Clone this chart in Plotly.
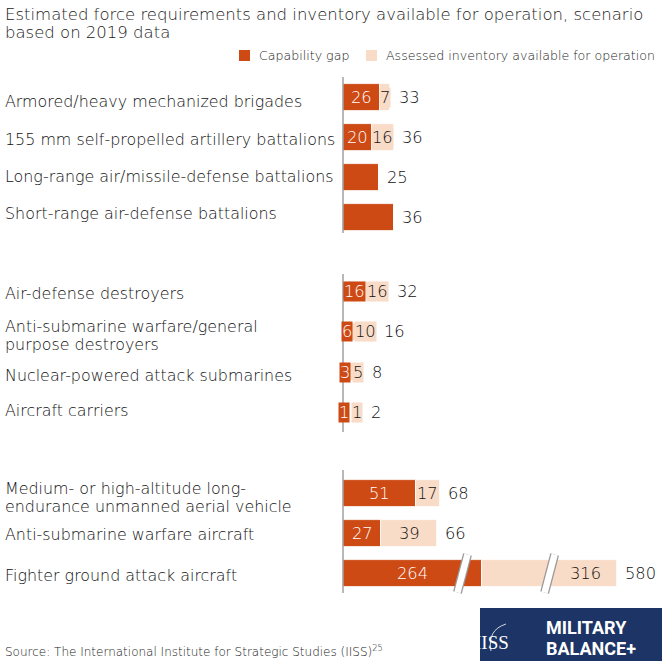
import plotly.graph_objects as go

# ---------------- data ----------------
categories = [
    "Armored/heavy mechanized brigades",
    "155 mm self-propelled artillery battalions",
    "Long-range air/missile-defense battalions",
    "Short-range air-defense battalions",
    "Air-defense destroyers",
    "Anti-submarine warfare/general<br>purpose destroyers",
    "Nuclear-powered attack submarines",
    "Aircraft carriers",
    "Medium- or high-altitude long-<br>endurance unmanned aerial vehicle",
    "Anti-submarine warfare aircraft",
    "Fighter ground attack aircraft",
]
groups = [0, 0, 0, 0, 1, 1, 1, 1, 2, 2, 2]
capability_gap = [26, 20, 25, 36, 16, 6, 3, 1, 51, 27, 264]
inventory = [7, 16, 0, 0, 16, 10, 5, 1, 17, 39, 316]
totals = [33, 36, 25, 36, 32, 16, 8, 2, 68, 66, 580]
# broken axis: displayed length of each segment of the fighter bar (axis break)
broken_display = {10: (97.5, 95)}

title_lines = ["Estimated force requirements and inventory available for operation, scenario",
               "based on 2019 data"]
legend_names = ["Capability gap", "Assessed inventory available for operation"]
source = "Source: The International Institute for Strategic Studies (IISS)<sup>25</sup>"

# ---------------- style / layout ----------------
W, H = 664, 671
RED = "#CD4A15"
LIGHT = "#F8DCC7"
TXT = "#111111"
FONT = "DejaVu Sans"
FW = 300
FS = 16.3
FS_CAT = 15.9
AX0 = 343          # pixel x of the zero line
PXU = 1.425        # pixels per unit
group_top = [84, 282, 480]
group_step = [40, 40.5, 40]
bar_h = [27, 18, 27]
axis_span = [(77, 233), (274, 432), (470, 593)]
label_dy = [4, 2, -1, -4, 2, 4, 3, -2, 4, 1, 2]
BREAK_FRAC = (0.86, 0.50)   # where the break marks sit within each segment
BREAK_HALF = 5              # half width (px) of a break mark


def u(p):  # pixel x -> data
    return (p - AX0) / PXU


def px(v):
    return AX0 + v * PXU


def f(size, color=TXT, family=FONT, weight=FW):
    return dict(family=family, size=size, color=color, weight=weight)


ys, widths = [], []
count = [0, 0, 0]
for g in groups:
    k = count[g]
    count[g] += 1
    ys.append(group_top[g] + bar_h[g] / 2 + k * group_step[g])
    widths.append(bar_h[g])

shown_gap, shown_inv = [], []
for i in range(len(categories)):
    if i in broken_display:
        a, b = broken_display[i]
    else:
        a, b = capability_gap[i], inventory[i]
    shown_gap.append(a)
    shown_inv.append(b)

fig = go.Figure()
fig.add_trace(go.Bar(
    orientation="h", y=ys, x=shown_gap, width=widths, base=[0] * len(ys),
    name=legend_names[0], marker=dict(color=RED, line=dict(color="white", width=0.8)),
    hoverinfo="skip", showlegend=False,
))
fig.add_trace(go.Bar(
    orientation="h", y=ys, x=shown_inv, width=widths, base=shown_gap,
    name=legend_names[1], marker=dict(color=LIGHT, line=dict(color="white", width=0.8)),
    hoverinfo="skip", showlegend=False,
))

ann = []
shapes = []
DIG = 10  # approx pixel width of a digit
for i, cat in enumerate(categories):
    y = ys[i]
    lines = cat.split("<br>")
    n = len(lines)
    for j, line in enumerate(lines):
        ly = y + label_dy[i] + (j - (n - 1) / 2) * 18
        ann.append(dict(x=3 / W, xref="paper", y=ly, yref="y", text=line, showarrow=False,
                        xanchor="left", yanchor="middle", align="left", font=f(FS_CAT)))
    end_px = px(shown_gap[i] + shown_inv[i])
    right = end_px
    if inventory[i] > 0:
        g_txt = str(capability_gap[i])
        i_txt = str(inventory[i])
        gw = len(g_txt) * DIG + 2
        iw = len(i_txt) * DIG + 2
        gc = px(shown_gap[i] / 2)
        g_right = gc + gw / 2
        if i in broken_display:
            brk2 = px(shown_gap[i] + shown_inv[i] * BREAK_FRAC[1]) + BREAK_HALF
            ic = (brk2 + end_px) / 2
        else:
            ic = px(shown_gap[i] + shown_inv[i] / 2)
        il = max(ic - iw / 2, g_right + 1)
        ic = il + iw / 2
        ann.append(dict(x=u(gc), xref="x", y=y, yref="y", text=g_txt, showarrow=False,
                        bgcolor=RED, borderpad=0, font=f(FS, "white")))
        ann.append(dict(x=u(ic), xref="x", y=y, yref="y", text=i_txt, showarrow=False,
                        bgcolor=LIGHT, borderpad=0, font=f(FS)))
        right = max(end_px, il + iw)
    ann.append(dict(x=u(right + 6), xref="x", y=y, yref="y", text=str(totals[i]),
                    showarrow=False, xanchor="left", font=f(FS)))

# axis break marks on broken bars
for i in broken_display:
    a, b = shown_gap[i], shown_inv[i]
    y = ys[i]
    for xb in (a * BREAK_FRAC[0], a + b * BREAK_FRAC[1]):
        x0, x1 = u(px(xb) - BREAK_HALF), u(px(xb) + BREAK_HALF)
        for col, lw in (("#9a9a9a", 9), ("white", 6.5)):
            shapes.append(dict(type="line", xref="x", yref="y", x0=x0, x1=x1,
                               y0=y + 19, y1=y - 19, line=dict(color=col, width=lw)))

# zero lines per group
for (y0, y1) in axis_span:
    shapes.append(dict(type="line", xref="x", yref="y", x0=0, x1=0, y0=y0, y1=y1,
                       line=dict(color="#a0a0a0", width=1.5), layer="above"))

# title
for j, t in enumerate(title_lines):
    ann.append(dict(x=3 / W, xref="paper", y=14 + 18.5 * j, yref="y", text=t, showarrow=False,
                    xanchor="left", yanchor="middle", align="left", font=f(16.5, "#222222")))

# manual legend
shapes.append(dict(type="rect", xref="paper", yref="y", x0=239 / W, x1=250 / W, y0=50, y1=61,
                   fillcolor=RED, line=dict(width=0)))
ann.append(dict(x=257 / W, xref="paper", y=55.5, yref="y", text=legend_names[0], showarrow=False,
                xanchor="left", font=f(12.6, "#222222")))
shapes.append(dict(type="rect", xref="paper", yref="y", x0=366 / W, x1=377 / W, y0=50, y1=61,
                   fillcolor=LIGHT, line=dict(width=0)))
ann.append(dict(x=384 / W, xref="paper", y=55.5, yref="y", text=legend_names[1], showarrow=False,
                xanchor="left", font=f(12.6, "#222222")))

# source
ann.append(dict(x=3 / W, xref="paper", y=651, yref="y", text=source, showarrow=False,
                xanchor="left", font=f(12, "#222222")))

# logo
shapes.append(dict(type="rect", xref="paper", yref="y", x0=480 / W, x1=662 / W, y0=608, y1=661,
                   fillcolor="#1C3566", line=dict(width=0)))
shapes.append(dict(type="path", xref="paper", yref="y",
                   path=f"M {491/W} 651 Q {487/W} 630 {506/W} 624",
                   line=dict(color="white", width=0.8)))
ann.append(dict(x=511 / W, xref="paper", y=642, yref="y", text="IISS", showarrow=False,
                font=dict(family="Liberation Serif", size=19, color="white")))
ann.append(dict(x=544 / W, xref="paper", y=627, yref="y", text="<b>MILITARY</b>", showarrow=False,
                xanchor="left", font=dict(family="Roboto", size=18, color="white")))
ann.append(dict(x=544 / W, xref="paper", y=648, yref="y", text="<b>BALANCE+</b>", showarrow=False,
                xanchor="left", font=dict(family="Roboto", size=18, color="white")))

fig.update_layout(
    width=W, height=H, margin=dict(l=0, r=0, t=0, b=0),
    paper_bgcolor="white", plot_bgcolor="white",
    xaxis=dict(range=[u(0), u(W)], visible=False, fixedrange=True),
    yaxis=dict(range=[H, 0], visible=False, fixedrange=True),
    barmode="overlay", bargap=0,
    annotations=ann, shapes=shapes, showlegend=False,
)
fig.write_html("out.html", config={"displayModeBar": False},
               post_script="document.body.style.margin='0';document.body.style.overflow='hidden';")
